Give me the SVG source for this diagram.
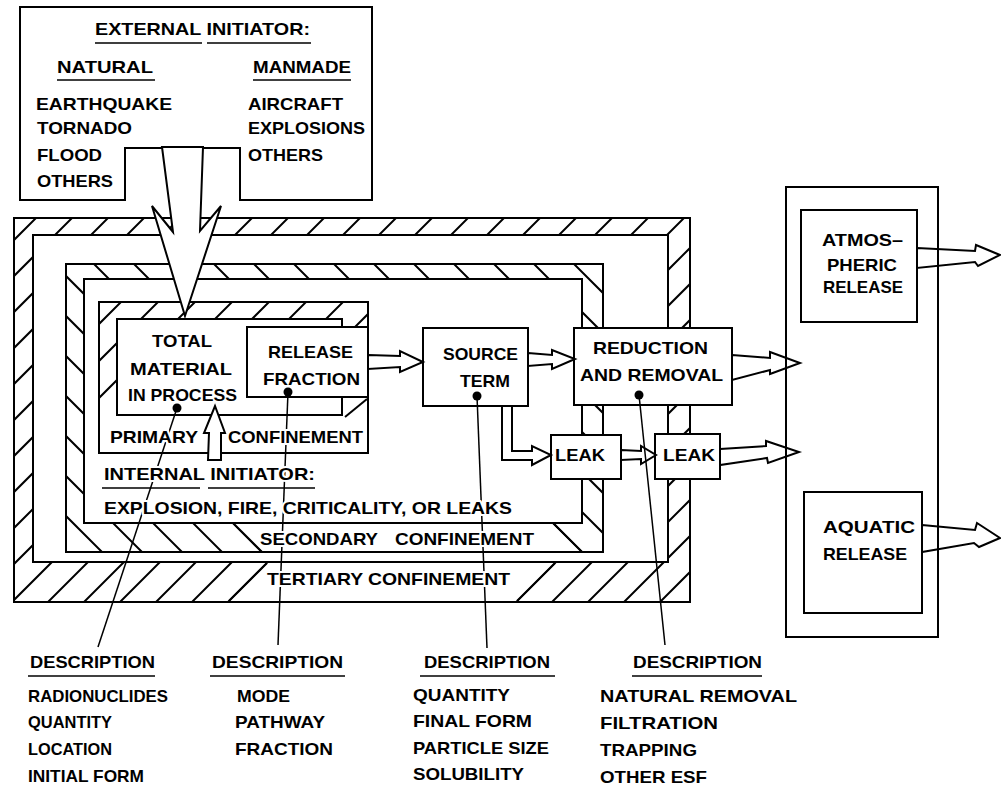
<svg xmlns="http://www.w3.org/2000/svg" width="1001" height="787" viewBox="0 0 1001 787">
<defs>
<style>
.t{font-family:"Liberation Sans",Arial,Helvetica,sans-serif;font-weight:700;font-size:17px;fill:#000}
.halo{paint-order:stroke;stroke:#fff;stroke-width:4px;stroke-linejoin:round}
.box{fill:#fff;stroke:#000;stroke-width:2}
.ln{fill:none;stroke:#000;stroke-width:2}
.hatch{fill:none;stroke:#000;stroke-width:2}
.ul{fill:none;stroke:#000;stroke-width:1.5}
.lead{fill:none;stroke:#000;stroke-width:1.5}
.arr{fill:none;stroke:#000;stroke-width:2;stroke-linejoin:miter}
.arrw{fill:#fff;stroke:#000;stroke-width:2;stroke-linejoin:miter}
.dot{fill:#000}
</style>
<clipPath id="cT"><path clip-rule="evenodd" d="M14,218 H690 V602 H14 Z M33,235 H668 V562 H33 Z"/></clipPath>
<clipPath id="cS"><path clip-rule="evenodd" d="M66,264 H603 V552 H66 Z M84,279 H582 V523 H84 Z"/></clipPath>
<clipPath id="cP"><path d="M99,302 H368 V319 H99 Z M99,318 H117 V415 H99 Z M341,318 H368 V327 H341 Z"/></clipPath>
</defs>
<rect width="1001" height="787" fill="#fff"/>

<g id="external-initiator">
<path class="box" d="M20,7 H372 V200 H240 V148 H125 V200 H20 Z"/>
<text class="t" x="95" y="35" textLength="215" lengthAdjust="spacingAndGlyphs">EXTERNAL INITIATOR:</text>
<path class="ul" d="M95,43 H202 M207,43 H311"/>
<text class="t" x="57" y="73" textLength="96" lengthAdjust="spacingAndGlyphs">NATURAL</text>
<path class="ul" d="M57,80 H155"/>
<text class="t" x="253" y="73" textLength="98" lengthAdjust="spacingAndGlyphs">MANMADE</text>
<path class="ul" d="M253,80 H351"/>
<text class="t" x="36" y="110" textLength="136" lengthAdjust="spacingAndGlyphs">EARTHQUAKE</text>
<text class="t" x="37" y="134" textLength="95" lengthAdjust="spacingAndGlyphs">TORNADO</text>
<text class="t" x="37" y="161" textLength="65" lengthAdjust="spacingAndGlyphs">FLOOD</text>
<text class="t" x="37" y="187" textLength="76" lengthAdjust="spacingAndGlyphs">OTHERS</text>
<text class="t" x="248" y="110" textLength="95" lengthAdjust="spacingAndGlyphs">AIRCRAFT</text>
<text class="t" x="248" y="134" textLength="117" lengthAdjust="spacingAndGlyphs">EXPLOSIONS</text>
<text class="t" x="248" y="161" textLength="75" lengthAdjust="spacingAndGlyphs">OTHERS</text>
</g>

<g id="tertiary-confinement">
<path class="hatch" clip-path="url(#cT)" d="M-356,610 l400,-400 M-320,610 l400,-400 M-284,610 l400,-400 M-248,610 l400,-400 M-212,610 l400,-400 M-176,610 l400,-400 M-140,610 l400,-400 M-104,610 l400,-400 M-68,610 l400,-400 M-32,610 l400,-400 M4,610 l400,-400 M40,610 l400,-400 M76,610 l400,-400 M112,610 l400,-400 M148,610 l400,-400 M184,610 l400,-400 M220,610 l400,-400 M256,610 l400,-400 M292,610 l400,-400 M328,610 l400,-400 M364,610 l400,-400 M400,610 l400,-400 M436,610 l400,-400 M472,610 l400,-400 M508,610 l400,-400 M544,610 l400,-400 M580,610 l400,-400 M616,610 l400,-400 M652,610 l400,-400"/>
<polygon points="230,601 268,563 554,563 516,601" fill="#fff"/>
<path class="ln" d="M229,601 L267,563 M517,601 L555,563"/>
<path d="M14,218 H690 V602 H14 Z M33,235 H668 V562 H33 Z" fill="none" stroke="#000" stroke-width="2"/>
</g>

<g id="secondary-confinement">
<path class="hatch" clip-path="url(#cS)" d="M600,250 l310,310 M560,250 l310,310 M520,250 l310,310 M480,250 l310,310 M440,250 l310,310 M400,250 l310,310 M360,250 l310,310 M320,250 l310,310 M280,250 l310,310 M240,250 l310,310 M200,250 l310,310 M160,250 l310,310 M120,250 l310,310 M80,250 l310,310 M40,250 l310,310 M0,250 l310,310 M-40,250 l310,310 M-80,250 l310,310 M-120,250 l310,310 M-160,250 l310,310 M-200,250 l310,310"/>
<polygon points="234,524 552,524 580,551 262,551" fill="#fff"/>
<path class="ln" d="M233,523 L262,552 M553,523 L582,552"/>
<path d="M66,264 H603 V552 H66 Z M84,279 H582 V523 H84 Z" fill="none" stroke="#000" stroke-width="2"/>
</g>

<g id="primary-confinement">
<path class="hatch" clip-path="url(#cP)" d="M-7,430 l140,-140 M30,430 l140,-140 M67,430 l140,-140 M104,430 l140,-140 M141,430 l140,-140 M178,430 l140,-140 M215,430 l140,-140 M252,430 l140,-140"/>
<rect x="99" y="302" width="269" height="151" fill="none" stroke="#000" stroke-width="2"/>
<path class="ln" d="M345,417 L367,399"/>
</g>

<g id="total-material">
<path class="ln" d="M117,319 H342 V415 H117 Z"/>
<text class="t" x="152" y="347" textLength="60" lengthAdjust="spacingAndGlyphs">TOTAL</text>
<text class="t" x="130" y="375" textLength="102" lengthAdjust="spacingAndGlyphs">MATERIAL</text>
<text class="t" x="128" y="401" textLength="109" lengthAdjust="spacingAndGlyphs">IN PROCESS</text>
</g>

<g id="release-fraction">
<rect class="box" x="247" y="327" width="121" height="70"/>
<text class="t" x="268" y="358" textLength="85" lengthAdjust="spacingAndGlyphs">RELEASE</text>
<text class="t" x="263" y="385" textLength="97" lengthAdjust="spacingAndGlyphs">FRACTION</text>
</g>

<g id="source-term">
<rect class="box" x="423" y="328" width="105" height="78"/>
<text class="t" x="443" y="360" textLength="75" lengthAdjust="spacingAndGlyphs">SOURCE</text>
<text class="t" x="460" y="387" textLength="50" lengthAdjust="spacingAndGlyphs">TERM</text>
</g>

<g id="reduction-removal">
<rect class="box" x="574" y="328" width="158" height="77"/>
<text class="t" x="593" y="354" textLength="115" lengthAdjust="spacingAndGlyphs">REDUCTION</text>
<text class="t" x="580" y="381" textLength="143" lengthAdjust="spacingAndGlyphs">AND REMOVAL</text>
</g>

<g id="leak-1">
<rect class="box" x="551" y="435" width="70" height="44"/>
<text class="t" x="555" y="461" textLength="50" lengthAdjust="spacingAndGlyphs">LEAK</text>
</g>

<g id="leak-2">
<rect class="box" x="655" y="434" width="65" height="45"/>
<text class="t" x="663" y="461" textLength="52" lengthAdjust="spacingAndGlyphs">LEAK</text>
</g>

<g id="environment">
<rect class="box" x="786" y="187" width="152" height="450"/>
</g>

<g id="atmospheric-release">
<rect class="box" x="801" y="210" width="116" height="112"/>
<text class="t" x="822" y="246" textLength="81" lengthAdjust="spacingAndGlyphs">ATMOS–</text>
<text class="t" x="827" y="271" textLength="70" lengthAdjust="spacingAndGlyphs">PHERIC</text>
<text class="t" x="823" y="293" textLength="80" lengthAdjust="spacingAndGlyphs">RELEASE</text>
</g>

<g id="aquatic-release">
<rect class="box" x="804" y="492" width="118" height="121"/>
<text class="t" x="823" y="533" textLength="92" lengthAdjust="spacingAndGlyphs">AQUATIC</text>
<text class="t" x="823" y="560" textLength="84" lengthAdjust="spacingAndGlyphs">RELEASE</text>
</g>

<g id="connectors">
<polygon class="arrw" points="162,147 173,232 152,206 185,316 221,206 200,231 203,147"/>
<line class="lead" x1="177" y1="408" x2="98" y2="647"/>
<line class="lead" x1="288" y1="392" x2="278" y2="645"/>
<line class="lead" x1="477" y1="396" x2="487" y2="648"/>
<line class="lead" x1="639" y1="395" x2="665" y2="645"/>
<circle class="dot" cx="177" cy="408" r="4.5"/>
<circle class="dot" cx="288" cy="392" r="4.5"/>
<circle class="dot" cx="477" cy="396" r="4.5"/>
<circle class="dot" cx="639" cy="395" r="4.5"/>
<polygon class="arrw" points="208,460 209,433 204,433 215,406 225,433 221,433 221,460"/>
<polygon class="arr" points="368,355 400,356 400,351 423,362 400,372 400,367 368,369"/>
<polygon class="arr" points="528,353 552,355 552,350 575,359 552,369 552,364 528,366"/>
<polygon class="arr" points="732,355 770,358 770,352 800,363 770,374 770,370 732,380"/>
<polygon class="arr" points="502,406 502,460 532,460 532,465 551,455 532,446 532,451 512,451 512,406"/>
<polygon class="arr" points="621,450 641,451 641,446 656,455 641,464 641,459 621,460"/>
<polygon class="arr" points="720,449 766,446 766,441 799,452 768,463 767,458 720,465"/>
<polygon class="arr" points="917,248 975,251 976,245 1000,255 978,266 975,262 917,268"/>
<polygon class="arr" points="922,525 975,530 977,523 1000,538 979,547 974,543 922,552"/>
</g>

<g id="confinement-labels">
<text class="t halo" x="110" y="443" textLength="88" lengthAdjust="spacingAndGlyphs">PRIMARY</text>
<text class="t halo" x="228" y="443" textLength="135" lengthAdjust="spacingAndGlyphs">CONFINEMENT</text>
<text class="t halo" x="104" y="480" textLength="211" lengthAdjust="spacingAndGlyphs">INTERNAL INITIATOR:</text>
<path class="ul" d="M102,488 H200 M208,488 H315"/>
<text class="t halo" x="104" y="514" textLength="408" lengthAdjust="spacingAndGlyphs">EXPLOSION, FIRE, CRITICALITY, OR LEAKS</text>
<text class="t halo" x="260" y="545" textLength="118" lengthAdjust="spacingAndGlyphs">SECONDARY</text>
<text class="t halo" x="395" y="545" textLength="139" lengthAdjust="spacingAndGlyphs">CONFINEMENT</text>
<text class="t halo" x="267" y="585" textLength="243" lengthAdjust="spacingAndGlyphs">TERTIARY CONFINEMENT</text>
</g>

<g id="description-material">
<text class="t" x="30" y="668" textLength="125" lengthAdjust="spacingAndGlyphs">DESCRIPTION</text>
<path class="ul" d="M28,676 H155"/>
<text class="t" x="28" y="702" textLength="140" lengthAdjust="spacingAndGlyphs">RADIONUCLIDES</text>
<text class="t" x="28" y="728" textLength="84" lengthAdjust="spacingAndGlyphs">QUANTITY</text>
<text class="t" x="28" y="755" textLength="84" lengthAdjust="spacingAndGlyphs">LOCATION</text>
<text class="t" x="28" y="782" textLength="116" lengthAdjust="spacingAndGlyphs">INITIAL FORM</text>
</g>

<g id="description-release">
<text class="t" x="212" y="668" textLength="131" lengthAdjust="spacingAndGlyphs">DESCRIPTION</text>
<path class="ul" d="M210,676 H345"/>
<text class="t" x="237" y="702" textLength="53" lengthAdjust="spacingAndGlyphs">MODE</text>
<text class="t" x="235" y="728" textLength="90" lengthAdjust="spacingAndGlyphs">PATHWAY</text>
<text class="t" x="235" y="755" textLength="98" lengthAdjust="spacingAndGlyphs">FRACTION</text>
</g>

<g id="description-source">
<text class="t" x="424" y="668" textLength="126" lengthAdjust="spacingAndGlyphs">DESCRIPTION</text>
<path class="ul" d="M420,676 H555"/>
<text class="t" x="413" y="701" textLength="97" lengthAdjust="spacingAndGlyphs">QUANTITY</text>
<text class="t" x="413" y="727" textLength="119" lengthAdjust="spacingAndGlyphs">FINAL FORM</text>
<text class="t" x="413" y="754" textLength="136" lengthAdjust="spacingAndGlyphs">PARTICLE SIZE</text>
<text class="t" x="413" y="780" textLength="111" lengthAdjust="spacingAndGlyphs">SOLUBILITY</text>
</g>

<g id="description-reduction">
<text class="t" x="633" y="668" textLength="129" lengthAdjust="spacingAndGlyphs">DESCRIPTION</text>
<path class="ul" d="M632,676 H762"/>
<text class="t" x="600" y="702" textLength="197" lengthAdjust="spacingAndGlyphs">NATURAL REMOVAL</text>
<text class="t" x="600" y="729" textLength="118" lengthAdjust="spacingAndGlyphs">FILTRATION</text>
<text class="t" x="600" y="756" textLength="97" lengthAdjust="spacingAndGlyphs">TRAPPING</text>
<text class="t" x="600" y="783" textLength="107" lengthAdjust="spacingAndGlyphs">OTHER ESF</text>
</g>
</svg>
